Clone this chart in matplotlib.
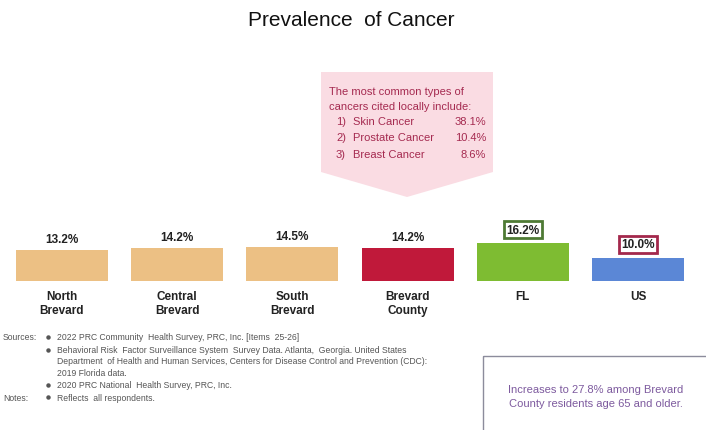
import matplotlib
matplotlib.use("Agg")
import matplotlib.pyplot as plt
from matplotlib.patches import Polygon, Rectangle

plt.rcParams['font.family'] = ['Liberation Sans', 'DejaVu Sans']

categories = ["North\nBrevard", "Central\nBrevard", "South\nBrevard", "Brevard\nCounty", "FL", "US"]
values = [13.2, 14.2, 14.5, 14.2, 16.2, 10.0]
bar_colors = ["#ECC084", "#ECC084", "#ECC084", "#C0193A", "#7EBC32", "#5B87D6"]
box_edges = [None, None, None, None, "#4E7A34", "#A3284C"]

cancer_types = ["Skin Cancer", "Prostate Cancer", "Breast Cancer"]
cancer_pcts = [38.1, 10.4, 8.6]

source_labels = ["Sources:", "", "", "Notes:"]
source_items = [
    ["2022 PRC Community  Health Survey, PRC, Inc. [Items  25-26]"],
    ["Behavioral Risk  Factor Surveillance System  Survey Data. Atlanta,  Georgia. United States",
     "Department  of Health and Human Services, Centers for Disease Control and Prevention (CDC):",
     "2019 Florida data."],
    ["2020 PRC National  Health Survey, PRC, Inc."],
    ["Reflects  all respondents."],
]
note_text = "Increases to 27.8% among Brevard\nCounty residents age 65 and older."

W, H = 706, 431
fig = plt.figure(figsize=(W / 100, H / 100), dpi=100)

# overlay in pixel coords for the decorations
ov = fig.add_axes([0, 0, 1, 1])
ov.set_xlim(0, W)
ov.set_ylim(H, 0)
ov.axis('off')

ov.text(351, 21, "Prevalence  of Cancer", fontsize=15, ha='center', va='center', color='#111111')

# callout arrow
pink_txt = "#A52A50"
ov.add_patch(Polygon([(321, 73), (493, 73), (493, 173), (407, 198), (321, 173)],
                     closed=True, fc="#FADCE3", ec='none'))
ov.text(329, 92, "The most common types of", fontsize=8, color=pink_txt, va='center')
ov.text(329, 107, "cancers cited locally include:", fontsize=8, color=pink_txt, va='center')
for i, (name, pct) in enumerate(zip(cancer_types, cancer_pcts)):
    y = 122 + i * 16.5
    ov.text(346, y, f"{i + 1})", fontsize=8, color=pink_txt, va='center', ha='right')
    ov.text(353, y, name, fontsize=8, color=pink_txt, va='center')
    ov.text(486, y, f"{pct:.1f}%", fontsize=8, color=pink_txt, va='center', ha='right')

# sources block
gray = '#555555'
y = 338
for label, lines in zip(source_labels, source_items):
    if label:
        ov.text(3, y, label, fontsize=6.2, color=gray, va='center')
    ov.plot(48, y, 'o', ms=2.2, color=gray)
    for k, line in enumerate(lines):
        ov.text(57, y + k * 11.5, line, fontsize=6.2, color=gray, va='center')
    y += 12.5 + 11.5 * (len(lines) - 1)

# note box
ov.add_patch(Rectangle((483, 357), 240, 90, fc='none', ec='#8C8C9C', lw=1))
ov.text(596, 397, note_text, fontsize=8, color='#7D5A9E', ha='center', va='center', linespacing=1.45)

# bars
ax = fig.add_axes([4.4 / W, 1 - 282 / H, 691.2 / W, 47 / H])
ax.patch.set_alpha(0)
x = range(len(values))
ax.bar(x, values, width=0.8, color=bar_colors)
ax.set_xlim(-0.5, len(values) - 0.5)
ax.set_ylim(0, 20)
for s in ax.spines.values():
    s.set_visible(False)
ax.set_yticks([])
ax.set_xticks(list(x))
ax.set_xticklabels(categories, fontsize=8.5, fontweight='bold', color='#222222', linespacing=1.25)
ax.tick_params(axis='x', length=0, pad=6.5)

for i, (v, ec) in enumerate(zip(values, box_edges)):
    if ec is None:
        ax.annotate(f"{v:.1f}%", (i, v), xytext=(0, 8), textcoords='offset points',
                    ha='center', va='center', fontsize=8.5, fontweight='bold', color='#222222')
    else:
        ax.annotate(f"{v:.1f}%", (i, v), xytext=(0, 9.5), textcoords='offset points',
                    ha='center', va='center', fontsize=8.5, fontweight='bold', color='#222222',
                    bbox=dict(boxstyle='square,pad=0.2', fc='white', ec=ec, lw=2))

fig.savefig("out.png", dpi=100)
